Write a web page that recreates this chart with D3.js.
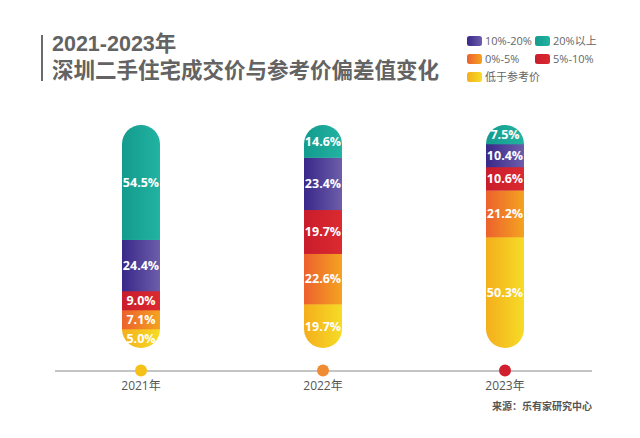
<!DOCTYPE html>
<html><head><meta charset="utf-8">
<script src="https://cdn.jsdelivr.net/npm/d3@7/dist/d3.min.js"></script>
<style>
html,body{margin:0;padding:0;background:#fff;}
svg{display:block;}
</style></head>
<body>
<svg id="chart" width="640" height="438"></svg>
<script>
// ---- data ----
const years = ["2021年", "2022年", "2023年"];
const categories = ["低于参考价", "0%-5%", "5%-10%", "10%-20%", "20%以上"];
const belowRef = [5.0, 19.7, 50.3];
const pct0to5 = [7.1, 22.6, 21.2];
const pct5to10 = [9.0, 19.7, 10.6];
const pct10to20 = [24.4, 23.4, 10.4];
const pct20up = [54.5, 14.6, 7.5];
const legendOrder = ["10%-20%", "20%以上", "0%-5%", "5%-10%", "低于参考价"];
const title1 = "2021-2023年";
const title2 = "深圳二手住宅成交价与参考价偏差值变化";
const source = "来源：乐有家研究中心";

const seriesValues = [belowRef, pct0to5, pct5to10, pct10to20, pct20up];

// ---- styles ----
const gradStops = {
  "低于参考价": ["#f4ae1c", "#f6dc26"],
  "0%-5%": ["#ec612d", "#f4a321"],
  "5%-10%": ["#c91c2c", "#db2a30"],
  "10%-20%": ["#392889", "#6d5eab"],
  "20%以上": ["#139b8e", "#22b3a1"]
};
const dotColors = ["#f6c01b", "#f08b32", "#d01f2e"];

const svg = d3.select("#chart");
const defs = svg.append("defs");
categories.forEach((c, i) => {
  const g = defs.append("linearGradient").attr("id", "g" + i)
    .attr("x1", "0%").attr("x2", "100%").attr("y1", "0%").attr("y2", "0%");
  g.append("stop").attr("offset", "0%").attr("stop-color", gradStops[c][0]);
  g.append("stop").attr("offset", "100%").attr("stop-color", gradStops[c][1]);
});

const x = d3.scalePoint().domain(years).range([141, 505]);
const barTop = 125, barBottom = 348, barW = 38;
const H = barBottom - barTop;
const minH = 19;

function layout(vals) {
  let fixed = vals.map(() => false);
  let heights;
  for (let iter = 0; iter < 6; iter++) {
    const nFixed = fixed.filter(f => f).length;
    const freeSum = d3.sum(vals.filter((v, i) => !fixed[i]));
    const s = d3.scaleLinear().domain([0, freeSum]).range([0, H - nFixed * minH]);
    heights = vals.map((v, i) => fixed[i] ? minH : s(v));
    let changed = false;
    heights.forEach((h, i) => { if (!fixed[i] && h < minH) { fixed[i] = true; changed = true; } });
    if (!changed) break;
  }
  return heights;
}

// ---- title ----
const titleFont = "'Liberation Sans','Noto Sans CJK SC',sans-serif";
svg.append("rect").attr("x", 41).attr("y", 35).attr("width", 2).attr("height", 46).attr("fill", "#6b6b6b");
svg.append("text").attr("x", 52).attr("y", 51).text(title1)
  .attr("font-family", titleFont).attr("font-weight", 700)
  .attr("font-size", 21.5).attr("fill", "#636363");
svg.append("text").attr("x", 52).attr("y", 78).text(title2)
  .attr("font-family", titleFont).attr("font-weight", 700)
  .attr("font-size", 21.5).attr("fill", "#636363");

// ---- legend ----
const legPos = [[467, 41], [535, 41], [467, 59], [535, 59], [467, 77]];
legendOrder.forEach((c, k) => {
  const i = categories.indexOf(c);
  const [lx, ly] = legPos[k];
  svg.append("rect").attr("x", lx).attr("y", ly - 5).attr("width", 15).attr("height", 10)
    .attr("rx", 2.5).attr("fill", `url(#g${i})`);
  svg.append("text").attr("x", lx + 18).attr("y", ly + 4).text(c)
    .attr("font-family", "'Open Sans','Noto Sans CJK SC',sans-serif")
    .attr("font-size", 11).attr("fill", "#666");
});

// ---- bars ----
years.forEach((yr, j) => {
  const cx = x(yr);
  const vals = seriesValues.map(s => s[j]);
  const hs = layout(vals);
  const clipId = "clip" + j;
  defs.append("clipPath").attr("id", clipId).append("rect")
    .attr("x", cx - barW / 2).attr("y", barTop).attr("width", barW).attr("height", H)
    .attr("rx", barW / 2).attr("ry", barW / 2);
  const g = svg.append("g").attr("clip-path", `url(#${clipId})`);
  let yb = barBottom;
  const segs = [];
  hs.forEach((h, i) => {
    segs.push({ i, y0: yb - h, y1: yb, v: vals[i] });
    yb -= h;
  });
  g.selectAll("rect").data(segs).join("rect")
    .attr("x", cx - barW / 2).attr("width", barW)
    .attr("y", d => d.y0).attr("height", d => d.y1 - d.y0 + 0.3)
    .attr("fill", d => `url(#g${d.i})`);
  svg.append("g").selectAll("text").data(segs).join("text")
    .attr("x", cx).attr("y", d => (d.y0 + d.y1) / 2 + 4.5)
    .attr("text-anchor", "middle")
    .attr("font-family", "'Open Sans','Noto Sans',sans-serif").attr("font-weight", 700)
    .attr("font-size", 12.5).attr("fill", "#fff")
    .text(d => d3.format(".1f")(d.v) + "%");
});

// ---- axis ----
svg.append("line").attr("x1", 55).attr("x2", 592).attr("y1", 371).attr("y2", 371)
  .attr("stroke", "#b0b0b0").attr("stroke-width", 1.5);
years.forEach((yr, j) => {
  svg.append("circle").attr("cx", x(yr)).attr("cy", 370.5).attr("r", 6).attr("fill", dotColors[j]);
  svg.append("text").attr("x", x(yr)).attr("y", 390).attr("text-anchor", "middle")
    .attr("font-family", "'Open Sans','Noto Sans CJK SC',sans-serif")
    .attr("font-size", 12).attr("fill", "#555").text(yr);
});

// ---- source ----
svg.append("text").attr("x", 592).attr("y", 410).attr("text-anchor", "end")
  .attr("font-family", "'Noto Sans CJK SC',sans-serif").attr("font-weight", 700)
  .attr("font-size", 10).attr("fill", "#555").text(source);
</script>
</body></html>
